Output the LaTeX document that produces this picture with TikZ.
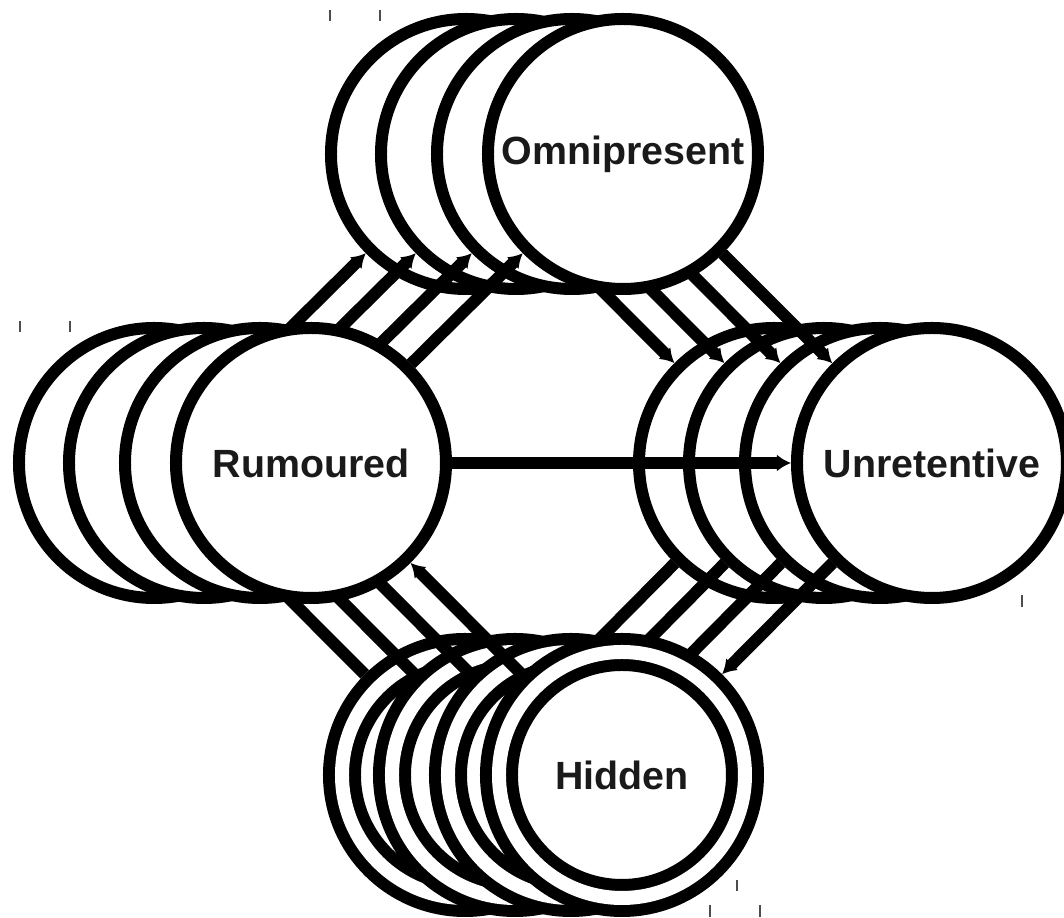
\documentclass[tikz,border=0pt]{standalone}
\usepackage{fontspec}
\setmainfont{Liberation Sans}
\usetikzlibrary{arrows.meta}
\definecolor{labelgray}{HTML}{1A1A1A}

\tikzset{
	st/.style={circle, draw, fill=white, line width=0.12cm, minimum size=2.7cm, inner sep=0pt,
		font=\fontsize{11.2}{13}\selectfont\bfseries, text=labelgray},
	fin/.style={st, double, double distance=0.14cm, minimum size=2.46cm, outer sep=0.19cm},
	tr/.style={line width=0.12cm, -{Latex[length=0.14cm,width=0.17cm]}},
	speck/.style={line width=0.4pt, black!70}
}

\begin{document}
\begin{tikzpicture}
		\useasboundingbox (-6.2,-4.55) rectangle (4.44,4.63);

		% back copy
		\node[st] at (-1.54, 3.09) (o0) {};
		\node[st] at (-4.66, 0) (r0) {};
		\node[st] at (1.54, 0) (u0) {};
		\node[fin] at (-1.55, -3.12) (h0) {};
		\path[tr] (r0) edge (o0);
		\path[tr] (o0) edge (u0);
		\path[tr] (h0) edge (r0);
		\path[tr] (u0) edge (h0);

		\node[st] at (-1.04, 3.09) (o1) {};
		\node[st] at (-4.16, 0) (r1) {};
		\node[st] at (2.04, 0) (u1) {};
		\node[fin] at (-1.05, -3.12) (h1) {};
		\path[tr] (r1) edge (o1);
		\path[tr] (o1) edge (u1);
		\path[tr] (h1) edge (r1);
		\path[tr] (u1) edge (h1);

		\node[st] at (-0.48, 3.09) (o2) {};
		\node[st] at (-3.60, 0) (r2) {};
		\node[st] at (2.60, 0) (u2) {};
		\node[fin] at (-0.49, -3.12) (h2) {};
		\path[tr] (r2) edge (o2);
		\path[tr] (o2) edge (u2);
		\path[tr] (h2) edge (r2);
		\path[tr] (u2) edge (h2);

		% front copy, with the labels
		\node[st] at (0.03, 3.09) (o3) {Omnipresent};
		\node[st] at (-3.09, 0) (r3) {Rumoured};
		\node[st] at (3.12, 0) (u3) {Unretentive};
		\node[fin] at (0.02, -3.12) (h3) {Hidden};
		\path[tr] (r3) edge (o3);
		\path[tr] (o3) edge (u3);
		\path[tr] (h3) edge (r3);
		\path[tr] (u3) edge (h3);
		\path[tr] (r3) edge (u3);

		% small marks
		\draw[speck] (-2.90, 4.53) -- (-2.90, 4.42);
		\draw[speck] (-2.40, 4.53) -- (-2.40, 4.42);
		\draw[speck] (-6.00, 1.42) -- (-6.00, 1.31);
		\draw[speck] (-5.50, 1.42) -- (-5.50, 1.31);
		\draw[speck] (4.02, -1.32) -- (4.02, -1.44);
		\draw[speck] (0.90, -4.42) -- (0.90, -4.54);
		\draw[speck] (1.40, -4.42) -- (1.40, -4.54);
		\draw[speck] (1.17, -4.17) -- (1.17, -4.28);
\end{tikzpicture}
\end{document}
